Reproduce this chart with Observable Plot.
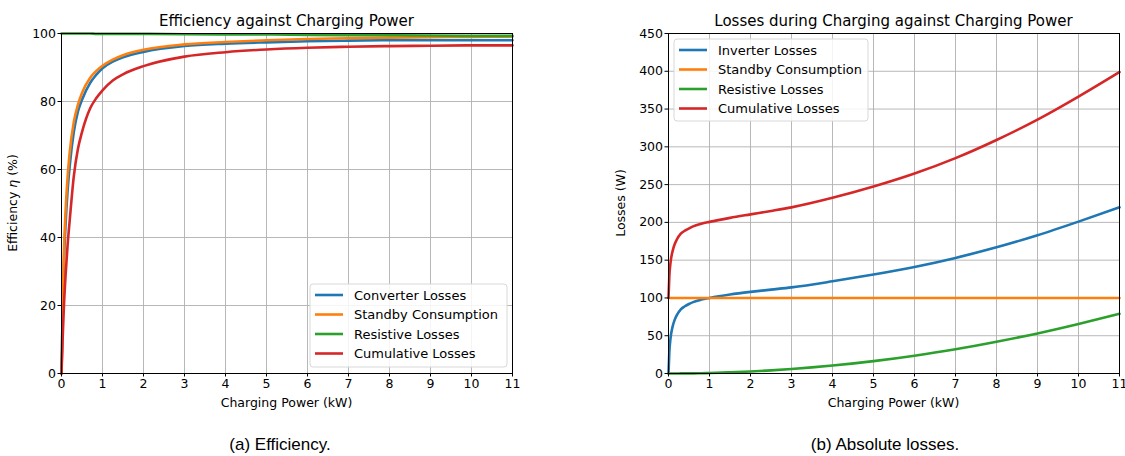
<!DOCTYPE html>
<html>
<head>
<meta charset="utf-8">
<script src="https://cdn.jsdelivr.net/npm/d3@7"></script>
<script src="https://cdn.jsdelivr.net/npm/@observablehq/plot@0.6"></script>
<style>
  html, body { margin: 0; padding: 0; background: #fff; }
  #wrap { position: relative; width: 1125px; height: 456px; overflow: hidden; }
  .panel { position: absolute; top: 0; }
  .cap { position: absolute; font-family: "Liberation Sans", Arial, sans-serif; font-size: 17px; color: #000; white-space: nowrap; transform: translateX(-50%); }
</style>
</head>
<body>
<div id="wrap">
  <div id="left" class="panel" style="left:0px"></div>
  <div id="right" class="panel" style="left:600px"></div>
  <div class="cap" style="left:280px; top:435px">(a) Efficiency.</div>
  <div class="cap" style="left:885px; top:435px">(b) Absolute losses.</div>
</div>
<script>
// ---------- data ----------
const xTicks = [0, 1, 2, 3, 4, 5, 6, 7, 8, 9, 10, 11];
const effTicks = [0, 20, 40, 60, 80, 100];
const lossTicks = [0, 50, 100, 150, 200, 250, 300, 350, 400, 450];

const effSeriesNames = ["Converter Losses", "Standby Consumption", "Resistive Losses", "Cumulative Losses"];
const lossSeriesNames = ["Inverter Losses", "Standby Consumption", "Resistive Losses", "Cumulative Losses"];
const seriesColors = ["#1f77b4", "#ff7f0e", "#2ca02c", "#d62728"];

// Efficiency (%) vs charging power (kW)
const effPower     = [0, 0.03, 0.06, 0.1, 0.15, 0.2, 0.3, 0.4, 0.5, 0.7, 0.85, 1, 1.25, 1.5, 2, 3, 4, 5, 6, 7, 8, 9, 10, 11];
const effConverter = [0, 19, 33, 44, 54, 61, 71, 77, 80.5, 85.5, 87.9, 89.8, 91.7, 93.0, 94.6, 96.3, 97.0, 97.4, 97.7, 97.9, 98.0, 98.0, 98.0, 98.0];
const effStandby   = [0, 20, 36, 48, 58, 65, 74, 79, 82.5, 87, 89, 90.5, 92.3, 93.6, 95.2, 96.8, 97.5, 98.0, 98.4, 98.6, 98.8, 98.9, 99.0, 99.1];
const effResistive = [100, 100, 100, 100, 100, 100, 100, 100, 100, 100, 99.9, 99.9, 99.9, 99.9, 99.9, 99.8, 99.7, 99.7, 99.6, 99.5, 99.5, 99.4, 99.3, 99.3];
const effCumulative= [0, 11, 20, 29, 38, 45, 58, 66, 71, 78, 81, 83.3, 86.2, 88, 90.4, 93.2, 94.5, 95.3, 95.8, 96.1, 96.3, 96.4, 96.5, 96.5];

// Losses (W) vs charging power (kW)
const lossPower     = [0, 0.02, 0.05, 0.1, 0.15, 0.2, 0.3, 0.4, 0.5, 0.6, 0.8, 1, 1.5, 2, 2.5, 3, 4, 5, 6, 7, 8, 9, 10, 11];
const lossInverter  = [0, 28, 47, 62, 71, 77, 85, 89, 92, 94.5, 97.8, 100, 104.5, 108, 111, 114, 122, 131, 141, 153, 167, 183, 201, 220];
const lossStandby   = [100, 100, 100, 100, 100, 100, 100, 100, 100, 100, 100, 100, 100, 100, 100, 100, 100, 100, 100, 100, 100, 100, 100, 100];
const lossResistive = [0, 0, 0, 0, 0, 0, 0.1, 0.1, 0.2, 0.2, 0.4, 0.65, 1.5, 2.6, 4.1, 5.9, 10.5, 16.4, 23.6, 32, 42, 53, 65.5, 79];
const lossCumulative= [100, 128, 147, 162, 171, 177, 185, 189, 192, 194.7, 198.2, 200.7, 206, 210.6, 215.1, 219.9, 232.5, 247.4, 264.6, 285, 309, 336, 366.5, 399];

// ---------- helpers ----------
function toRows(xs, seriesArrays, names) {
  const rows = [];
  seriesArrays.forEach((arr, i) => arr.forEach((v, j) => rows.push({x: xs[j], y: v, s: names[i]})));
  return rows;
}

function makePanel(opts) {
  const {width, height, ml, mr, mt, mb, yDomain, yTicks, rows, names, title, yLabel, legend} = opts;
  const gridStyle = {stroke: "#b0b0b0", strokeOpacity: 1, strokeWidth: 0.9};
  const svg = Plot.plot({
    width, height,
    marginLeft: ml, marginRight: mr, marginTop: mt, marginBottom: mb,
    style: {fontFamily: "DejaVu Sans, sans-serif", fontSize: "12.5px", color: "#000", background: "transparent", overflow: "visible"},
    x: {domain: [0, 11]},
    y: {domain: yDomain},
    color: {domain: names, range: seriesColors},
    marks: [
      Plot.gridX(xTicks, gridStyle),
      Plot.gridY(yTicks, gridStyle),
      ...names.map((n, i) => Plot.line(rows.filter(r => r.s === n), {x: "x", y: "y", stroke: seriesColors[i], strokeWidth: 2.6, curve: "monotone-x"})),
      Plot.frame({stroke: "#000", strokeWidth: 1}),
      Plot.axisX(xTicks, {tickSize: 3.5, tickPadding: 2, label: null, fontSize: 12.5}),
      Plot.axisY(yTicks, {tickSize: 3.5, tickPadding: 2, label: null, fontSize: 12.5})
    ]
  });
  const s = d3.select(svg);
  const cx = ml + (width - ml - mr) / 2;
  const font = "DejaVu Sans, sans-serif";
  s.append("text").attr("x", cx).attr("y", 26).attr("text-anchor", "middle")
    .attr("font-family", font).attr("font-size", 15).attr("fill", "#000").text(title);
  s.append("text").attr("x", cx).attr("y", height - 3).attr("text-anchor", "middle")
    .attr("font-family", font).attr("font-size", 12.5).attr("fill", "#000").text("Charging Power (kW)");
  const yl = s.append("text").attr("transform", `translate(${opts.yLabelX},${mt + (height - mt - mb) / 2}) rotate(-90)`)
    .attr("text-anchor", "middle").attr("font-family", font).attr("font-size", 12.5).attr("fill", "#000");
  yLabel.forEach(part => {
    const t = yl.append("tspan").text(part.t);
    if (part.italic) t.attr("font-style", "italic");
  });
  // legend
  const g = s.append("g").attr("text-anchor", "start");
  g.append("rect").attr("x", legend.x).attr("y", legend.y).attr("width", legend.w).attr("height", legend.h)
    .attr("rx", 3).attr("fill", "#fff").attr("fill-opacity", 0.85).attr("stroke", "#d8d8d8").attr("stroke-width", 1);
  names.forEach((n, i) => {
    const yy = legend.y + 11 + i * 19.5;
    g.append("line").attr("x1", legend.x + 5).attr("x2", legend.x + 33).attr("y1", yy).attr("y2", yy)
      .attr("stroke", seriesColors[i]).attr("stroke-width", 2.6);
    g.append("text").attr("x", legend.x + 44).attr("y", yy).attr("dy", "0.35em").attr("text-anchor", "start")
      .attr("font-family", font).attr("font-size", 13).attr("fill", "#000").text(n);
  });
  return svg;
}

document.getElementById("left").appendChild(makePanel({
  width: 560, height: 410, ml: 61, mr: 48, mt: 33, mb: 37,
  yDomain: [0, 100], yTicks: effTicks,
  rows: toRows(effPower, [effConverter, effStandby, effResistive, effCumulative], effSeriesNames),
  names: effSeriesNames,
  title: "Efficiency against Charging Power",
  yLabel: [{t: "Efficiency "}, {t: "η", italic: true}, {t: " (%)"}],
  yLabelX: 17,
  legend: {x: 310, y: 284, w: 197, h: 83}
}));

document.getElementById("right").appendChild(makePanel({
  width: 525, height: 410, ml: 68, mr: 6, mt: 33, mb: 37,
  yDomain: [0, 450], yTicks: lossTicks,
  rows: toRows(lossPower, [lossInverter, lossStandby, lossResistive, lossCumulative], lossSeriesNames),
  names: lossSeriesNames,
  title: "Losses during Charging against Charging Power",
  yLabel: [{t: "Losses (W)"}],
  yLabelX: 25,
  legend: {x: 74, y: 39, w: 194, h: 82}
}));
</script>
</body>
</html>
